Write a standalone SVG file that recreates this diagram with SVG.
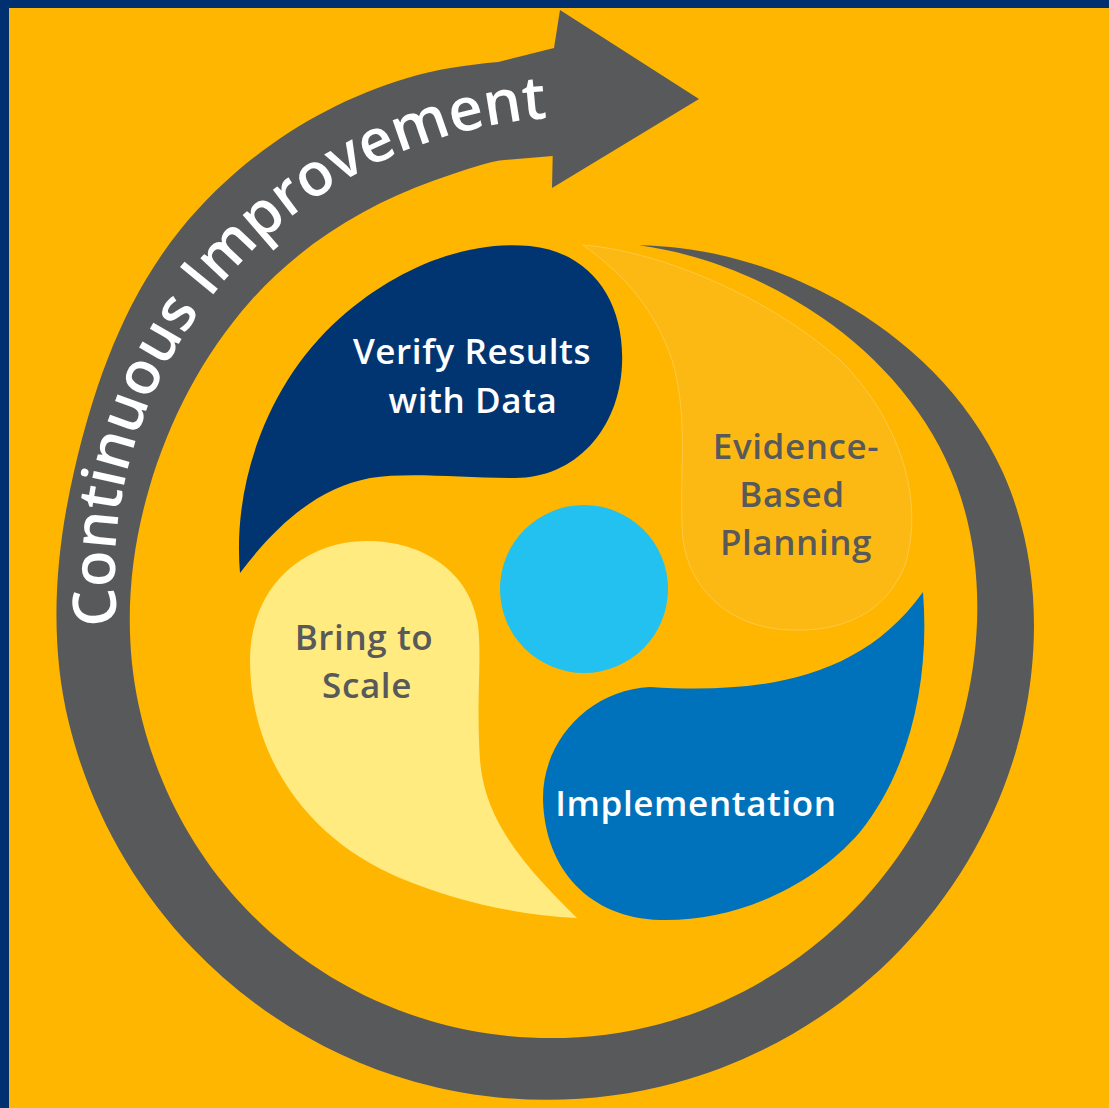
<svg xmlns="http://www.w3.org/2000/svg" width="1109" height="1108" viewBox="0 0 1109 1108">
  <defs>
    <style>
      .lbl { font-family: "Open Sans", "Noto Sans", "Liberation Sans", sans-serif; font-weight: 600; font-size: 35px; letter-spacing: 0.6px; text-anchor: middle; }
      .w { fill: #FFFFFF; }
      .g { fill: #58595B; }
      .ring-text { font-family: "Open Sans", "Noto Sans", "Liberation Sans", sans-serif; font-weight: 600; font-size: 60px; fill: #FFFFFF; }
    </style>
    <path id="ringBaseline" d="M 118,624.9 A 432 432 0 0 1 134.3,445.5 A 443 443 0 0 1 227.5,277.5 A 456 456 0 0 1 386.3,159 A 471 471 0 0 1 561.7,117.3"/>
  </defs>

  <rect x="0" y="0" width="1109" height="1108" fill="#00306F"/>
  <rect x="9" y="8" width="1100" height="1100" fill="#FFB600"/>

  <g id="evidence-based-planning">
    <path d="M 583,245 C 650,250 760,290 840,360 C 900,420 925,500 905,565 C 885,615 840,632 790,630 C 730,628 690,590 683,540 C 678,480 690,420 672,360 C 655,310 625,275 583,245 Z" fill="#FDB913" stroke="#FFC844" stroke-width="1"/>
    <text class="lbl g" x="796" y="459">Evidence-</text>
    <text class="lbl g" x="792" y="507">Based</text>
    <text class="lbl g" x="796" y="555">Planning</text>
  </g>

  <g id="connectors">
    <path id="continuous-improvement-arrow" fill="#58595B" d="M 638.7,245.3 C 703.9,246.2 773.2,264.1 839.2,300.8 C 905.2,337.5 968.5,395.9 1002.8,472.3 C 1037.1,548.7 1041.9,638.7 1023.1,723.1 C 1004.3,807.5 960.8,886.9 900,950 C 839.2,1013.1 760.7,1059.7 675.7,1082.8 C 590.7,1105.9 499.3,1105.5 414.6,1081.8 C 329.9,1058.1 252.4,1010.8 192.2,947.8 C 132,884.8 89.1,806.2 68.8,722.6 C 48.5,639 55.2,551.8 74.6,469 C 94,386.2 123.3,300.6 180.1,230.1 C 236.9,159.6 317,105 406.5,78.2 C 436.3,69.3 467.4,64.7 498.4,62 L 554,48 L 560,10 L 699,99 L 552,188 L 552.7,156 L 499.3,160.4 C 476.8,164.9 455.2,173.1 434,180.6 C 363.2,205.6 299.1,246.4 250.8,300.8 C 202.5,355.2 169.1,420.2 149,488.9 C 128.9,557.6 123.2,632 138.4,704 C 153.6,776 187.9,845.2 238.8,901.2 C 289.7,957.2 357,999.5 430.9,1021 C 504.8,1042.5 585,1044 659.9,1023.9 C 734.8,1003.8 803.6,962.4 856.8,906.8 C 910,851.2 947.5,781.5 965.2,707.6 C 982.9,633.7 982.2,554.8 956.5,484.7 C 930.8,414.6 879.5,357.2 822.2,317.8 C 764.9,278.4 701.8,253.9 638.7,245.3 Z"/>
    <text class="ring-text"><textPath href="#ringBaseline" textLength="742" lengthAdjust="spacing">Continuous Improvement</textPath></text>
  </g>

  <g id="verify-results">
    <path d="M 240,573 C 232,480 270,380 340,318 C 400,265 470,240 530,246 C 590,252 625,300 622,365 C 619,430 575,478 515,478 C 460,478 410,472 370,478 C 320,488 280,520 240,573 Z" fill="#003572"/>
    <text class="lbl w" x="472" y="364">Verify Results</text>
    <text class="lbl w" x="473" y="413">with Data</text>
  </g>

  <g id="bring-to-scale">
    <path d="M 577,918 C 540,880 485,830 480,760 C 476,700 482,660 478,625 C 470,570 420,540 365,541 C 300,542 250,590 250,660 C 250,760 310,840 400,878 C 460,903 520,915 577,918 Z" fill="#FFEB80"/>
    <text class="lbl g" x="364" y="650">Bring to</text>
    <text class="lbl g" x="367" y="698">Scale</text>
  </g>

  <g id="implementation">
    <path d="M 923,592 C 930,680 910,770 860,832 C 810,890 730,922 660,920 C 590,918 545,870 543,800 C 542,740 590,690 650,687 C 760,694 860,680 923,592 Z" fill="#0072BC"/>
    <text class="lbl w" x="696" y="816">Implementation</text>
  </g>

  <g id="center">
    <circle cx="584" cy="589" r="84" fill="#22C1EF"/>
  </g>
</svg>
